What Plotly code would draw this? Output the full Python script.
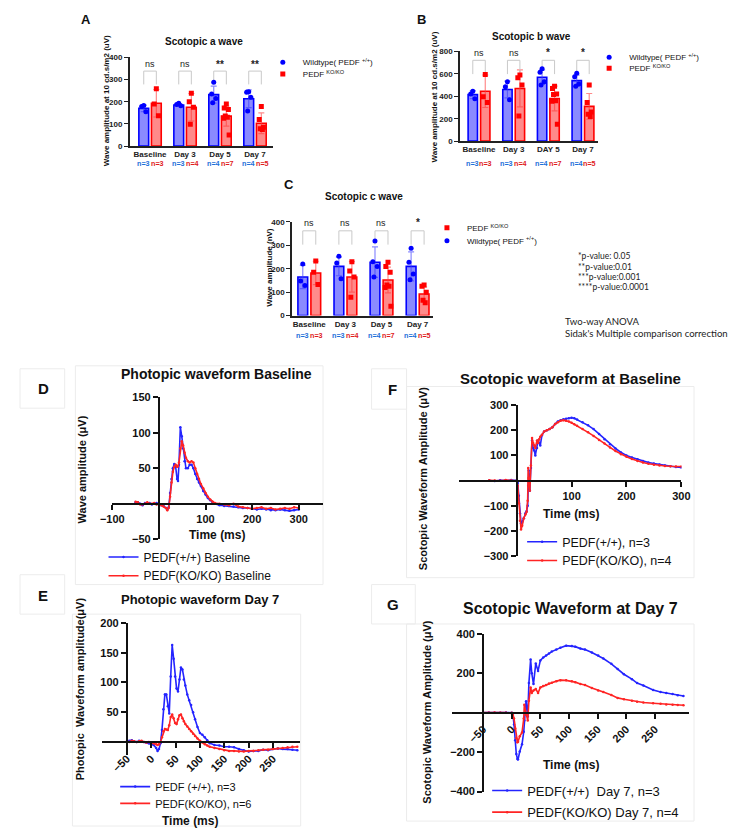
import plotly.graph_objects as go

# screen frame the reference is measured in
W, H = 738, 840
# the page body adds an 8px margin, so the figure itself is drawn slightly smaller and offset
PAD = 8
FIG_W, FIG_H = W - PAD, H - 2 * PAD
FONT = "Liberation Sans, Arial, sans-serif"
FONT_H = "Lato, Open Sans, sans-serif"

# ---------------- data: bar panels (A, B, C) ----------------
cat_a = ["Baseline", "Day 3", "Day 5", "Day 7"]
a_wt_mean = [170, 185, 232, 213]
a_wt_sd = [15, 6, 38, 40]
a_ko_mean = [193, 175, 135, 103]
a_ko_sd = [62, 62, 45, 47]
a_wt_pts = [[183, 178, 155], [193, 187, 182], [288, 235, 215, 195], [245, 243, 220, 158]]
a_ko_pts = [[258, 190, 137], [238, 200, 175, 98], [190, 172, 165, 135, 130, 125, 50], [178, 120, 85, 78, 75]]
a_sig = ["ns", "ns", "**", "**"]
a_n_wt = ["n=3", "n=3", "n=4", "n=4"]
a_n_ko = ["n=3", "n=4", "n=7", "n=5"]

cat_b = ["Baseline", "Day 3", "DAY 5", "Day 7"]
b_wt_mean = [415, 460, 570, 540]
b_wt_sd = [35, 75, 65, 50]
b_ko_mean = [445, 470, 380, 310]
b_ko_sd = [145, 165, 110, 115]
b_wt_pts = [[445, 420, 378], [530, 485, 370], [645, 615, 530, 500], [605, 575, 510, 490]]
b_ko_pts = [[595, 395, 345], [590, 565, 500, 225], [490, 470, 420, 415, 360, 355, 150], [500, 345, 260, 240, 220]]
b_sig = ["ns", "ns", "*", "*"]
b_n_wt = ["n=3", "n=3", "n=4", "n=4"]
b_n_ko = ["n=3", "n=4", "n=7", "n=5"]

cat_c = ["Baseline", "Day 3", "Day 5", "Day 7"]
c_wt_mean = [165, 210, 228, 210]
c_wt_sd = [50, 40, 65, 62]
c_ko_mean = [182, 165, 152, 92]
c_ko_sd = [50, 65, 55, 30]
c_wt_pts = [[220, 148, 128], [253, 225, 157], [318, 230, 210, 165], [288, 228, 177, 153]]
c_ko_pts = [[233, 185, 133], [230, 190, 165, 78], [228, 210, 185, 130, 125, 120, 40], [130, 125, 100, 65, 55]]
c_sig = ["ns", "ns", "ns", "*"]
c_n_wt = ["n=3", "n=3", "n=4", "n=4"]
c_n_ko = ["n=3", "n=4", "n=7", "n=5"]

wt_name = "Wildtype( PEDF <sup>+/+</sup>)"
ko_name = "PEDF <sup>KO/KO</sup>"
p_notes = ["*p-value: 0.05", "**p-value:0.01", "***p-value:0.001", "****p-value:0.0001"]
stat_notes = ["Two-way ANOVA", "Sidak's Multiple comparison correction"]

# ---------------- data: waveforms ----------------
# D: photopic baseline
t_d = [-50, -45, -40, -35, -30, -25, -20, -15, -10, -5,
       0, 5, 10, 15, 18, 21, 24, 27, 30, 33,
       36, 39, 41, 43, 46, 49, 52, 55, 58, 62,
       66, 70, 74, 78, 82, 86, 90, 95, 100, 105,
       110, 115, 120, 130, 140, 150, 160, 170, 180, 190,
       200, 210, 220, 230, 240, 250, 260, 270, 280, 290,
       300]
d_wt = [2, 2, 0, -2, 1, 0, 1, -1, 0, 1,
        -1, -2, -3, -6, -8, -5, 15, 35, 50, 56,
        52, 35, 32, 55, 108, 95, 78, 60, 50, 50,
        55, 55, 50, 42, 35, 30, 25, 18, 13, 8,
        5, 2, 0, -2, -3, -3, -4, -5, -6, -6,
        -7, -8, -7, -8, -9, -9, -8, -9, -10, -9,
        -8]
d_ko = [3, 2, -1, -1, 0, 2, 0, 0, 1, -1,
        0, -2, -4, -6, -9, -6, 10, 30, 45, 52,
        55, 52, 53, 58, 78, 88, 82, 72, 65, 60,
        58, 60, 58, 50, 42, 35, 28, 22, 15, 10,
        6, 3, 1, 0, -1, -2, 0, -4, -5, -6,
        -7, -6, -5, -7, -6, -8, -7, -6, -7, -5,
        -6]
d_names = ["PEDF(+/+) Baseline", "PEDF(KO/KO) Baseline"]

# E: photopic day 7
t_e = [-50, -45, -40, -35, -30, -25, -20, -15, -10, -5,
       0, 5, 10, 13, 16, 19, 22, 25, 28, 31,
       34, 37, 40, 43, 46, 49, 52, 55, 58, 61,
       64, 67, 70, 74, 78, 82, 86, 90, 95, 100,
       105, 110, 115, 120, 130, 140, 150, 160, 170, 180,
       190, 200, 210, 220, 230, 240, 250, 260, 270, 280,
       290, 300]
e_wt = [0, 2, 3, 1, 0, 2, 1, 0, -1, -2,
        -3, -5, -10, -15, -12, -2, 20, 55, 80, 80,
        60, 48, 110, 163, 140, 110, 90, 85, 105, 125,
        122, 105, 95, 80, 70, 62, 50, 38, 25, 15,
        12, 8, 3, -2, -5, -6, -8, -8, -9, -12,
        -14, -16, -15, -15, -13, -14, -12, -11, -12, -12,
        -13, -14]
e_ko = [1, 0, 2, 1, 0, 1, 2, 0, -1, 0,
        -1, -2, -4, -5, -4, 0, 8, 18, 22, 21,
        20, 28, 42, 46, 40, 32, 30, 38, 45, 46,
        40, 35, 30, 26, 22, 18, 14, 10, 6, 2,
        -1, -4, -6, -8, -10, -12, -14, -15, -15, -16,
        -16, -15, -15, -14, -13, -13, -12, -11, -10, -9,
        -8, -8]
e_names = ["PEDF (+/+), n=3", "PEDF(KO/KO), n=6"]

# F: scotopic baseline
t_f = [-50, -40, -30, -20, -10, 0, 2, 4, 6, 8,
       10, 13, 16, 18, 20, 21, 22, 24, 26, 28,
       30, 32, 34, 37, 39, 41, 43, 46, 50, 55,
       60, 65, 70, 75, 80, 85, 90, 95, 100, 105,
       110, 120, 130, 140, 150, 160, 170, 180, 190, 200,
       210, 220, 230, 240, 250, 260, 270, 280, 290, 300]
f_wt = [0, -2, 1, 0, 2, 0, -10, -60, -130, -170,
        -165, -150, -130, -122, -100, -20, 40, -40, 50, 160,
        130, 120, 100, 130, 160, 150, 140, 180, 195, 200,
        205, 212, 225, 235, 240, 244, 246, 248, 250, 248,
        243, 232, 220, 205, 185, 165, 145, 128, 112, 100,
        92, 85, 78, 72, 68, 64, 60, 57, 54, 52]
f_ko = [1, 0, -1, 2, 0, -1, -20, -90, -160, -195,
        -180, -150, -135, -125, -80, 50, 10, -40, 60, 170,
        150, 140, 130, 160, 150, 165, 175, 182, 195, 200,
        205, 212, 225, 232, 238, 240, 238, 235, 230, 224,
        218, 205, 192, 178, 162, 148, 132, 118, 105, 95,
        86, 78, 72, 67, 63, 60, 58, 57, 56, 56]
f_names = ["PEDF(+/+), n=3", "PEDF(KO/KO), n=4"]

# G: scotopic day 7
t_g = [-50, -40, -30, -20, -10, 0, 2, 4, 6, 8,
       10, 11, 14, 18, 21, 22, 25, 28, 30, 33,
       35, 38, 42, 46, 50, 55, 60, 65, 70, 78,
       85, 95, 105, 111, 120, 128, 140, 151, 160, 174,
       185, 196, 210, 219, 230, 247, 260, 270, 281, 290,
       300]
g_wt = [0, 1, -1, 0, 1, 0, -10, -60, -140, -210,
        -235, -238, -197, -160, -97, -40, 58, -20, 150, 270,
        200, 145, 250, 212, 265, 280, 290, 300, 310, 320,
        330, 340, 338, 335, 325, 320, 305, 290, 275, 248,
        222, 195, 170, 150, 138, 115, 105, 100, 95, 88,
        85]
g_ko = [0, -1, 1, 0, 0, -1, -5, -30, -80, -130,
        -150, -148, -120, -100, -30, 40, -10, -40, 60, 128,
        100, 112, 120, 100, 128, 135, 140, 148, 152, 160,
        165, 164, 160, 155, 145, 140, 125, 112, 105, 90,
        75, 68, 60, 55, 52, 48, 45, 42, 40, 39,
        38]
g_names = ["PEDF(+/+)  Day 7, n=3", "PEDF(KO/KO) Day 7, n=4"]

# ---------------- helpers ----------------
def px2x(px):
    return (px - PAD) / FIG_W


def py2y(py):
    return 1 - (py - PAD) / FIG_H


traces = []
annotations = []
shapes = []
layout = {}
legend_count = [0]


def new_legend(px_text, py_mid, size, off):
    legend_count[0] += 1
    k = legend_count[0]
    name = "legend" if k == 1 else "legend%d" % k
    layout[name] = dict(x=px2x(px_text - off), y=py2y(py_mid), xanchor="left", yanchor="middle",
                        bgcolor="rgba(0,0,0,0)", borderwidth=0, itemwidth=30,
                        font=dict(size=size, color="#111", family=FONT))
    return name


def text(px, py, s, size, bold=False, color="#111", family=FONT, xanchor="center", angle=0):
    annotations.append(dict(x=px2x(px), y=py2y(py), xref="paper", yref="paper", text=s,
                            showarrow=False, xanchor=xanchor, yanchor="middle", textangle=angle,
                            font=dict(size=size, color=color, family=family,
                                      weight="bold" if bold else "normal")))


def axis_names(n):
    if n == 1:
        return "x", "y", "xaxis", "yaxis"
    return "x%d" % n, "y%d" % n, "xaxis%d" % n, "yaxis%d" % n


OFF = 0.18
N_OFF = 0.2
JIT = [0.0, -0.06, 0.06, -0.03, 0.03, -0.08, 0.08]
WT_FILL, KO_FILL = "rgba(60,60,255,0.6)", "rgba(255,60,60,0.6)"
WT_LINE, KO_LINE = "#0000ff", "#ff0000"
N_BLUE, N_RED = "#1e6fd9", "#e01b1b"


def bar_panel(n, cats, wt_mean, wt_sd, ko_mean, ko_sd, wt_pts, ko_pts, sig, n_wt, n_ko, g):
    xa, ya, xl, yl = axis_names(n)
    idx = list(range(len(cats)))
    x_wt = [i - OFF for i in idx]
    x_ko = [i + OFF for i in idx]
    for xs, means, sds, fill, line in ((x_wt, wt_mean, wt_sd, WT_FILL, WT_LINE),
                                       (x_ko, ko_mean, ko_sd, KO_FILL, KO_LINE)):
        traces.append(go.Bar(x=xs, y=means, width=g["bw"], xaxis=xa, yaxis=ya, showlegend=False,
                             marker=dict(color=fill, line=dict(color=line, width=1.6)),
                             error_y=dict(type="data", array=sds, color=fill, thickness=1.2, width=3),
                             hoverinfo="skip"))
    # significance brackets
    bx, by = [], []
    for i in idx:
        bx += [x_wt[i], x_wt[i], x_ko[i], x_ko[i], None]
        by += [g["leg"], g["br"], g["br"], g["leg"], None]
    traces.append(go.Scatter(x=bx, y=by, mode="lines", line=dict(color="#c9c9c9", width=1),
                             xaxis=xa, yaxis=ya, showlegend=False, hoverinfo="skip"))
    # individual points
    for xs, pts, color, sym, nm, lg in ((x_wt, wt_pts, WT_LINE, "circle", wt_name, g["leg_wt"]),
                                        (x_ko, ko_pts, KO_LINE, "square", ko_name, g["leg_ko"])):
        pxs, pys = [], []
        for i, grp in enumerate(pts):
            for k, v in enumerate(grp):
                pxs.append(xs[i] + JIT[k])
                pys.append(v)
        legname = new_legend(lg[0], lg[1], 8, 44)
        traces.append(go.Scatter(x=pxs, y=pys, mode="markers", name=nm, legend=legname,
                                 marker=dict(color=color, size=5, symbol=sym),
                                 xaxis=xa, yaxis=ya, showlegend=True, hoverinfo="skip"))
    for i in idx:
        annotations.append(dict(x=i, y=g["sig_y"], xref=xa, yref=ya, text=sig[i], showarrow=False,
                                font=dict(size=9 if sig[i] == "ns" else 10, color="#222", family=FONT,
                                          weight="normal" if sig[i] == "ns" else "bold")))
        for xv, lab, col in ((i - N_OFF, n_wt, N_BLUE), (i + N_OFF, n_ko, N_RED)):
            annotations.append(dict(x=xv, y=py2y(g["n_py"]), xref=xa, yref="paper", text=lab[i],
                                    showarrow=False, yanchor="middle",
                                    font=dict(size=7.2, color=col, family=FONT, weight="bold")))
    layout[xl] = dict(domain=[px2x(g["xpx"][0]), px2x(g["xpx"][1])], range=g["xr"], anchor=ya,
                      showline=True, linecolor="#222", linewidth=1.5, showgrid=False, zeroline=False,
                      tickvals=idx, ticktext=cats, ticks="",
                      tickfont=dict(size=8, color="#222", family=FONT, weight="bold"))
    layout[yl] = dict(domain=[py2y(g["ypx"][1]), py2y(g["ypx"][0])], range=g["yr"], anchor=xa,
                      showline=True, linecolor="#222", linewidth=1.5, showgrid=False, zeroline=False,
                      tickvals=g["yt"], ticks="outside", ticklen=4, tickwidth=1.2, tickcolor="#222",
                      tickfont=dict(size=8, color="#222", family=FONT, weight="bold"))
    text(g["title"][0], g["title"][1], g["title"][2], 10, bold=True)
    text(g["ytitle"][0], g["ytitle"][1], g["ytitle"][2], 8, bold=True, angle=-90)
    text(g["label"][0], g["label"][1], g["label"][2], 13, bold=True)


BLUE, RED = "#2424ff", "#ff2424"


def wave_panel(n, t, wt, ko, names, g):
    xa, ya, xl, yl = axis_names(n)
    for vals, color, nm, lg in ((wt, BLUE, names[0], g["leg"][0]), (ko, RED, names[1], g["leg"][1])):
        legname = new_legend(lg[0], lg[1], g["legsize"], 49)
        traces.append(go.Scatter(x=t, y=vals, mode="lines+markers", name=nm, legend=legname,
                                 line=dict(color=color, width=1.6), marker=dict(color=color, size=2.5),
                                 xaxis=xa, yaxis=ya, hoverinfo="skip"))
    x0, x1 = px2x(g["xpx"][0]), px2x(g["xpx"][1])
    yb, yt = py2y(g["ypx"][1]), py2y(g["ypx"][0])
    xr, yr = g["xr"], g["yr"]
    ypos = x0 + (g["ycross"] - xr[0]) / (xr[1] - xr[0]) * (x1 - x0)
    xpos = yb + (0 - yr[0]) / (yr[1] - yr[0]) * (yt - yb)
    tf = dict(size=11, color="#111", family=FONT, weight="bold")
    layout[xl] = dict(domain=[x0, x1], range=xr, anchor="free", position=xpos, showline=True,
                      linecolor="#111", linewidth=2, showgrid=False, zeroline=False,
                      tickvals=g["xt"], tickangle=g["xangle"], ticks="outside", ticklen=5,
                      tickwidth=1.5, tickcolor="#111", tickfont=tf)
    layout[yl] = dict(domain=[yb, yt], range=yr, anchor="free", position=ypos, showline=True,
                      linecolor="#111", linewidth=2, showgrid=False, zeroline=False,
                      tickvals=g["yt"], ticks="outside", ticklen=5, tickwidth=1.5, tickcolor="#111",
                      tickfont=tf)
    text(g["title"][0], g["title"][1], g["title"][2], g["title"][3], bold=True)
    text(g["xtitle"][0], g["xtitle"][1], "Time (ms)", 12, bold=True)
    text(g["ytitle"][0], g["ytitle"][1], g["ytitle"][2], 11, bold=True, angle=-90)
    text(g["label"][0], g["label"][1], g["label"][2], 15, bold=True)


# ---------------- panels ----------------
bar_panel(1, cat_a, a_wt_mean, a_wt_sd, a_ko_mean, a_ko_sd, a_wt_pts, a_ko_pts, a_sig, a_n_wt, a_n_ko,
          dict(xpx=(121, 268), ypx=(52, 142), xr=[-0.58, 3.5], yr=[0, 400], yt=[0, 100, 200, 300, 400],
               bw=0.28, br=338, leg=278, sig_y=368, n_py=160,
               leg_wt=(302, 57), leg_ko=(302, 69),
               title=(197, 36, "Scotopic a wave"),
               ytitle=(97, 96, "Wave amplitude at 10 cd.s/m2 (uV)"), label=(76, 14, "A")))
bar_panel(2, cat_b, b_wt_mean, b_wt_sd, b_ko_mean, b_ko_sd, b_wt_pts, b_ko_pts, b_sig, b_n_wt, b_n_ko,
          dict(xpx=(461, 603), ypx=(46, 137), xr=[-0.55, 3.43], yr=[0, 800], yt=[0, 200, 400, 600, 800],
               bw=0.27, br=721, leg=598, sig_y=790, n_py=160,
               leg_wt=(638, 52), leg_ko=(638, 63),
               title=(535, 31, "Scotopic b wave"),
               ytitle=(435, 92, "Wave amplitude at 10 cd.s/m2 (uV)"), label=(421, 14, "B")))
bar_panel(3, cat_c, c_wt_mean, c_wt_sd, c_ko_mean, c_ko_sd, c_wt_pts, c_ko_pts, c_sig, c_n_wt, c_n_ko,
          dict(xpx=(288, 433), ypx=(219, 314), xr=[-0.48, 3.42], yr=[0, 400], yt=[0, 100, 200, 300, 400],
               bw=0.27, br=362, leg=303, sig_y=396, n_py=334,
               leg_wt=(471, 238), leg_ko=(471, 225),
               title=(362, 193, "Scotopic c wave"),
               ytitle=(265, 265, "Wave amplitude (nV)"), label=(285, 181, "C")))

for k, s in enumerate(p_notes):
    text(580, 254 + k * 10.3, s, 8.5, family=FONT_H, xanchor="left", color="#222")
text(567, 320, stat_notes[0], 9.6, family=FONT_H, xanchor="left", color="#222")
text(567, 332, stat_notes[1], 9.6, family=FONT_H, xanchor="left", color="#222")

wave_panel(4, t_d, d_wt, d_ko, d_names,
           dict(xpx=(103, 320), ypx=(397, 541), xr=[-100, 352], yr=[-50, 150], ycross=0,
                xt=[-100, 100, 200, 300], yt=[-50, 50, 100, 150], xangle=0,
                leg=((143, 559), (143, 578)), legsize=12,
                title=(210, 373, "Photopic waveform Baseline", 14), xtitle=(211, 537),
                ytitle=(72, 470, "Wave amplitude (μV)"), label=(32, 388, "D")))
wave_panel(5, t_e, e_wt, e_ko, e_names,
           dict(xpx=(92, 296), ypx=(626, 760), xr=[-102, 305], yr=[-22, 200], ycross=-50,
                xt=[-50, 0, 50, 100, 150, 200, 250], yt=[50, 100, 150, 200], xangle=-45,
                leg=((155, 792), (155, 809)), legsize=11,
                title=(193, 602, "Photopic waveform Day 7", 13), xtitle=(183, 827),
                ytitle=(70, 693, "Photopic  Waveform amplitude(μV)"), label=(32, 598, "E")))
wave_panel(6, t_f, f_wt, f_ko, f_names,
           dict(xpx=(460, 689), ypx=(405, 558), xr=[-105, 300], yr=[-300, 300], ycross=0,
                xt=[100, 200, 300], yt=[-300, -200, -100, 100, 200, 300], xangle=0,
                leg=((574, 544), (574, 563)), legsize=12.5,
                title=(575, 378, "Scotopic waveform at Baseline", 15), xtitle=(575, 515),
                ytitle=(423, 480, "Scotopic Waveform Amplitude (μV)"), label=(392, 389, "F")))
wave_panel(7, t_g, g_wt, g_ko, g_names,
           dict(xpx=(453, 697), ypx=(637, 797), xr=[-104, 310], yr=[-400, 400], ycross=-50,
                xt=[-50, 0, 50, 100, 150, 200, 250], yt=[-400, -200, 200, 400], xangle=-45,
                leg=((538, 796), (538, 818)), legsize=13,
                title=(575, 611, "Scotopic Waveform at Day 7", 16), xtitle=(575, 770),
                ytitle=(427, 716, "Scotopic Waveform Amplitude (μV)"), label=(392, 607, "G")))

# faint framing boxes around the lower panels
for (a, b, c, d) in [(8, 368, 54, 408), (65, 365, 320, 587), (8, 577, 54, 617), (62, 617, 297, 832),
                     (370, 368, 406, 409), (406, 386, 702, 580), (370, 587, 415, 627), (406, 627, 702, 827)]:
    shapes.append(dict(type="rect", xref="paper", yref="paper", x0=px2x(a), x1=px2x(c),
                       y0=py2y(d), y1=py2y(b), line=dict(color="#ececec", width=1), layer="below"))

fig = go.Figure(data=traces)
fig.update_layout(**layout)
fig.update_layout(width=FIG_W, height=FIG_H, autosize=False, margin=dict(l=0, r=0, t=0, b=0),
                  paper_bgcolor="white", plot_bgcolor="white", barmode="overlay",
                  showlegend=True, hovermode=False, annotations=annotations, shapes=shapes,
                  font=dict(family=FONT, color="#111"))
fig.write_html("out.html")
